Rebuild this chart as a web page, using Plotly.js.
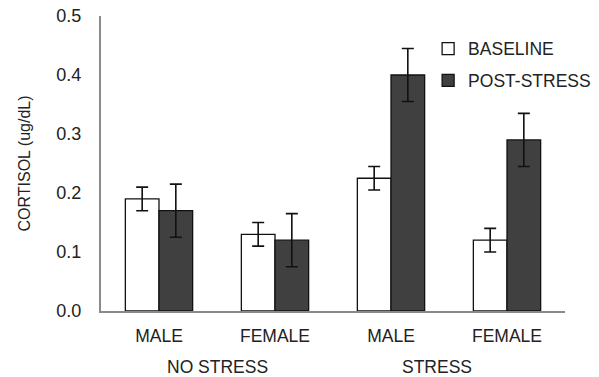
<!DOCTYPE html>
<html>
<head>
<meta charset="utf-8">
<script src="https://cdn.plot.ly/plotly-3.0.1.min.js"></script>
<style>html,body{margin:0;padding:0;background:#fff;}#chart{width:599px;height:377px;}</style>
</head>
<body>
<div id="chart"></div>
<script>
const categories = ["NS-MALE", "NS-FEMALE", "S-MALE", "S-FEMALE"];
const sexLabels = ["MALE", "FEMALE", "MALE", "FEMALE"];
const conditionLabels = ["NO STRESS", "STRESS"];
const baseline = [0.19, 0.13, 0.225, 0.12];
const baselineErr = [0.02, 0.02, 0.02, 0.02];
const postStress = [0.17, 0.12, 0.40, 0.29];
const postStressErr = [0.045, 0.045, 0.045, 0.045];

// group label positions (category index units)
const conditionPos = [0.5, 2.4];

const errStyle = {type: "data", visible: true, color: "#111", thickness: 1.6, width: 6};

const traces = [
  {
    type: "bar", name: "BASELINE", x: categories, y: baseline,
    marker: {color: "#ffffff", line: {color: "#111", width: 1.3}},
    error_y: Object.assign({array: baselineErr}, errStyle),
    legendgroup: "a"
  },
  {
    type: "bar", name: "POST-STRESS", x: categories, y: postStress,
    marker: {color: "#404040", line: {color: "#111", width: 1.3}},
    error_y: Object.assign({array: postStressErr}, errStyle),
    legendgroup: "b"
  }
];

const annotations = conditionLabels.map((t, i) => ({
  text: t, xref: "x", yref: "paper", x: conditionPos[i], y: -0.191,
  xanchor: "center", yanchor: "middle", showarrow: false,
  font: {size: 17.5, color: "#222"}
}));

const layout = {
  width: 599, height: 377,
  margin: {l: 101, r: 34, t: 16, b: 66, autoexpand: false},
  paper_bgcolor: "#fff", plot_bgcolor: "#fff",
  font: {family: "Liberation Sans, Arial, sans-serif", size: 17, color: "#222"},
  barmode: "group", bargap: 0.42, bargroupgap: 0,
  showlegend: true,
  legend: {x: 0.705, y: 0.95, xanchor: "left", yanchor: "top", bgcolor: "rgba(0,0,0,0)",
           font: {size: 17.5, color: "#222"}, tracegroupgap: 6, itemwidth: 30},
  annotations: annotations,
  xaxis: {
    type: "category", tickvals: categories, ticktext: sexLabels,
    showline: true, linecolor: "#8a8a8a", linewidth: 2,
    ticks: "outside", ticklen: 8, tickcolor: "rgba(0,0,0,0)", showgrid: false,
    tickfont: {size: 17.5, color: "#222"}, range: [-0.5, 3.5], automargin: false
  },
  yaxis: {
    range: [0, 0.5], dtick: 0.1, tickformat: ".1f", showgrid: false, zeroline: false,
    showline: true, linecolor: "#8a8a8a", linewidth: 2,
    ticks: "outside", ticklen: 14, tickcolor: "rgba(0,0,0,0)",
    tickfont: {size: 18, color: "#222"},
    title: {text: "CORTISOL (ug/dL)", font: {size: 16, color: "#222"}, standoff: 22}
  }
};

Plotly.newPlot("chart", traces, layout, {displayModeBar: false, staticPlot: true});
</script>
</body>
</html>
